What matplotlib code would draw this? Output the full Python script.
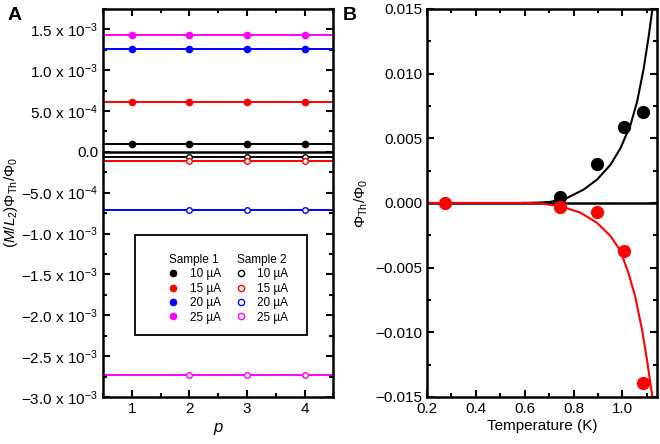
import numpy as np
import matplotlib
matplotlib.use("Agg")
import matplotlib.pyplot as plt
from matplotlib.lines import Line2D
from matplotlib.patches import Rectangle
from matplotlib.transforms import Affine2D
from matplotlib.ticker import MultipleLocator, FixedLocator, FuncFormatter

plt.rcParams["font.family"] = ["Liberation Sans", "DejaVu Sans"]
plt.rcParams["mathtext.fontset"] = "custom"
plt.rcParams["mathtext.rm"] = "Liberation Sans"
plt.rcParams["mathtext.it"] = "Liberation Sans:italic"
plt.rcParams["axes.unicode_minus"] = True

# ---- panel A data ----
p1 = [1, 2, 3, 4]
p2 = [2, 3, 4]
currents = ["10", "15", "20", "25"]
colors = ["black", "red", "blue", "magenta"]
sample1 = [0.093e-3, 0.609e-3, 1.26e-3, 1.43e-3]
sample2 = [-0.064e-3, -0.117e-3, -0.71e-3, -2.73e-3]

# ---- panel B data ----
T_pts = [0.743, 0.896, 1.007, 1.085]
black_pts = [0.00044, 0.0030, 0.0059, 0.00705]
T_red = [0.275, 0.743, 0.896, 1.007, 1.085]
red_pts = [0.0, -0.00033, -0.00067, -0.0037, -0.01395]

T_bfit = [0.59, 0.65, 0.705, 0.773, 0.841, 0.896, 0.951, 0.992, 1.033, 1.060, 1.087, 1.108, 1.125]
bfit = [0.0, 0.00002, 0.00008, 0.00038, 0.00103, 0.0018, 0.00295, 0.00423, 0.00603, 0.00782, 0.01038, 0.01295, 0.0153]
T_rfit = [0.2, 0.6, 0.664, 0.746, 0.828, 0.896, 0.951, 0.992, 1.026, 1.053, 1.081, 1.101, 1.125]
rfit = [0.0, 0.0, -0.00005, -0.00025, -0.00075, -0.00154, -0.00256, -0.0037, -0.0055, -0.0073, -0.00987, -0.0122, -0.0153]

fig = plt.figure(figsize=(6.6, 4.44), dpi=100)
axA = fig.add_axes([0.156, 0.106, 0.349, 0.874])
axB = fig.add_axes([0.647, 0.106, 0.349, 0.874])

for ax in (axA, axB):
    for s in ax.spines.values():
        s.set_linewidth(1.8)
    ax.tick_params(which="both", direction="in", top=True, right=True, width=1.5, labelsize=11)
    ax.tick_params(which="major", length=5)
    ax.tick_params(which="minor", length=3)

# panel A
axA.axhline(0, color="black", lw=1.8)
for y1, y2, c in zip(sample1, sample2, colors):
    axA.axhline(y1, color=c, lw=1.4)
    axA.axhline(y2, color=c, lw=1.4)
    axA.plot(p1, [y1] * len(p1), "o", color=c, ms=4.5)
    axA.plot(p2, [y2] * len(p2), "o", mfc="white", mec=c, mew=1.0, ms=4)

axA.set_xlim(0.5, 4.5)
axA.set_ylim(-3.0e-3, 1.75e-3)
axA.xaxis.set_major_locator(FixedLocator([1, 2, 3, 4]))
axA.xaxis.set_minor_locator(MultipleLocator(0.5))
yt = np.arange(-3.0e-3, 1.51e-3, 0.5e-3)
axA.yaxis.set_major_locator(FixedLocator(yt))
axA.yaxis.set_minor_locator(MultipleLocator(0.25e-3))


def fmtA(v, pos):
    if abs(v) < 1e-9:
        return "0.0"
    e = int(np.floor(np.log10(abs(v)) + 1e-9))
    m = v / 10 ** e
    return f"{m:.1f}".replace("-", "\u2212") + " x 10" + r"$^{-" + str(-e) + "}$"


axA.yaxis.set_major_formatter(FuncFormatter(fmtA))
axA.set_xlabel(r"$\mathit{p}$", fontsize=12)
axA.set_ylabel(r"($\mathit{M}$/$\mathit{L}_2$)$\Phi_{\mathrm{Th}}/\Phi_0$", fontsize=11, labelpad=1)

# legend: two columns with a title row each, inside a plain box
h1 = [Line2D([], [], ls="none", marker="o", color=c, ms=4.5) for c in colors]
h2 = [Line2D([], [], ls="none", marker="o", mfc="white", mec=c, mew=1.0, ms=4.5) for c in colors]
blank = Line2D([], [], ls="none")
labels = ["Sample 1"] + [f"{c} \u00b5A" for c in currents] + ["Sample 2"] + [f"{c} \u00b5A" for c in currents]
leg = axA.legend([blank] + h1 + [blank] + h2, labels, ncol=2, loc="upper left",
                 bbox_to_anchor=(0.280, 0.368), borderaxespad=0, borderpad=0,
                 fontsize=8.5, frameon=False,
                 handlelength=1.0, handletextpad=0.92, labelspacing=0.2,
                 columnspacing=-0.42)
for i in (0, 5):
    t = leg.get_texts()[i]
    t.set_transform(t.get_transform() + Affine2D().translate(-20.7, 0))
axA.add_patch(Rectangle((0.139, 0.1606), 0.7465, 0.256, transform=axA.transAxes,
                        fill=False, ec="black", lw=1.3, zorder=5))

# panel B
axB.axhline(0, color="black", lw=1.8)
axB.plot(T_bfit, bfit, color="black", lw=1.5)
axB.plot(T_rfit, rfit, color="red", lw=1.5)
axB.plot(T_pts, black_pts, "o", color="black", ms=8.5)
axB.plot(T_red, red_pts, "o", color="red", ms=8.5)
axB.set_xlim(0.2, 1.143)
axB.set_ylim(-0.015, 0.015)
axB.xaxis.set_major_locator(FixedLocator([0.2, 0.4, 0.6, 0.8, 1.0]))
axB.xaxis.set_minor_locator(MultipleLocator(0.1))
axB.yaxis.set_major_locator(MultipleLocator(0.005))
axB.yaxis.set_minor_locator(MultipleLocator(0.0025))
axB.yaxis.set_major_formatter(FuncFormatter(lambda v, p: f"{v:.3f}".replace("-", "\u2212") if abs(v) > 1e-9 else "0.000"))
axB.xaxis.set_major_formatter(FuncFormatter(lambda v, p: f"{v:.1f}"))
axB.set_xlabel("Temperature (K)", fontsize=11, labelpad=2)
axB.set_ylabel(r"$\Phi_{\mathrm{Th}}/\Phi_0$", fontsize=11, labelpad=4)

fig.text(0.012, 0.955, "A", fontsize=14, fontweight="bold")
fig.text(0.52, 0.955, "B", fontsize=14, fontweight="bold")

fig.savefig("out.png", dpi=100)
